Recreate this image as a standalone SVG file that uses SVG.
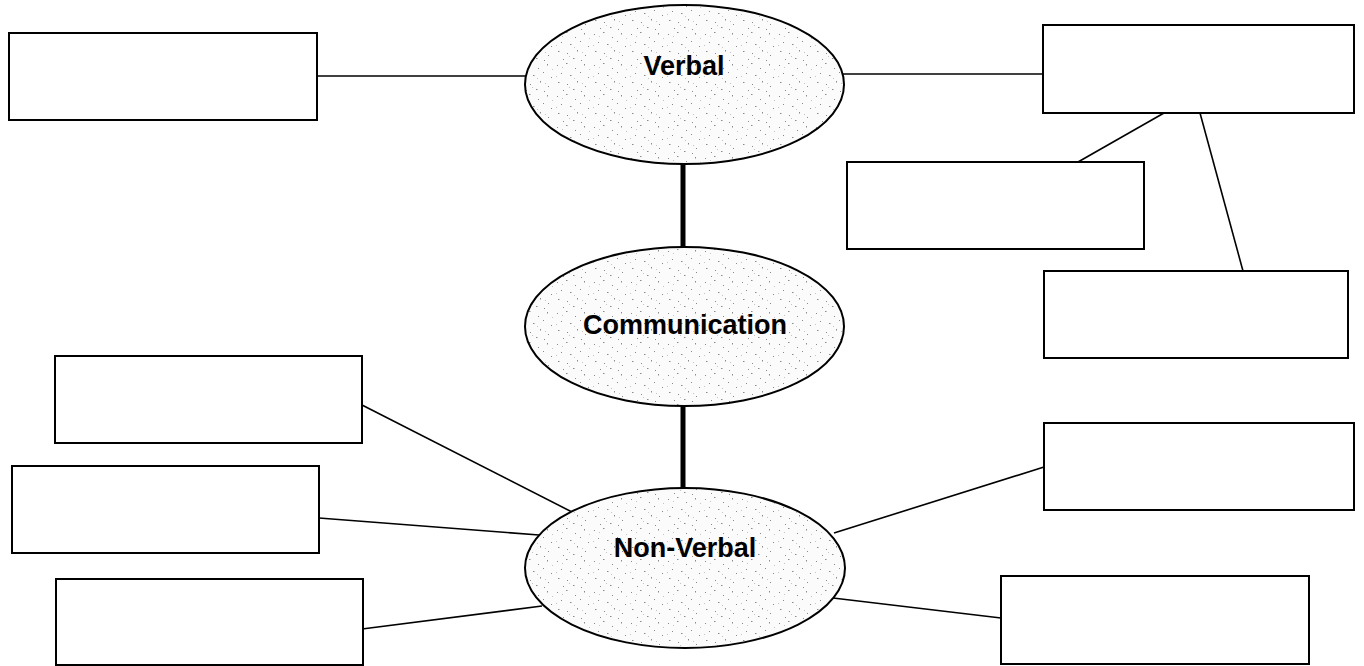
<svg xmlns="http://www.w3.org/2000/svg" width="1364" height="666" viewBox="0 0 1364 666">
  <style>
    .box { fill: #ffffff; stroke: #000000; stroke-width: 2; }
    .oval { fill: url(#stipple); stroke: #000000; stroke-width: 2; }
    .label { font-family: "Liberation Sans", Arial, sans-serif; font-weight: bold; font-size: 27px; fill: #000000; text-anchor: middle; }
    .thin { stroke: #000000; stroke-width: 1.6; fill: none; }
    .thick { stroke: #000000; stroke-width: 5; fill: none; }
  </style>
  <defs>
    <pattern id="stipple" width="37" height="31" patternUnits="userSpaceOnUse">
      <rect width="37" height="31" fill="#fbfbfb"/>
      <g fill="#8a8a8a">
        <rect x="2" y="3" width="1" height="1"/>
        <rect x="11" y="1" width="1.5" height="1"/>
        <rect x="20" y="6" width="1" height="1"/>
        <rect x="29" y="2" width="1" height="1.5"/>
        <rect x="6" y="11" width="1" height="1"/>
        <rect x="15" y="13" width="1.5" height="1"/>
        <rect x="25" y="10" width="1" height="1"/>
        <rect x="33" y="15" width="1" height="1"/>
        <rect x="3" y="20" width="1.5" height="1"/>
        <rect x="12" y="22" width="1" height="1"/>
        <rect x="22" y="19" width="1" height="1.5"/>
        <rect x="30" y="24" width="1" height="1"/>
        <rect x="8" y="28" width="1" height="1"/>
        <rect x="18" y="27" width="1.5" height="1"/>
        <rect x="26" y="29" width="1" height="1"/>
      </g>
      <g fill="#c4c4c4">
        <rect x="7" y="5" width="1" height="1"/>
        <rect x="34" y="7" width="1" height="1"/>
        <rect x="19" y="16" width="1" height="1"/>
        <rect x="1" y="14" width="1" height="1"/>
        <rect x="27" y="21" width="1" height="1"/>
        <rect x="14" y="25" width="1" height="1"/>
      </g>
    </pattern>
  </defs>

  <g id="connectors">
    <line class="thick" x1="683" y1="163" x2="683" y2="248"/>
    <line class="thick" x1="683" y1="405" x2="683" y2="489"/>
    <line class="thin" x1="317" y1="76" x2="526" y2="76"/>
    <line class="thin" x1="843" y1="74" x2="1043" y2="74"/>
    <line class="thin" x1="1164" y1="113" x2="1078" y2="162"/>
    <line class="thin" x1="1200" y1="113" x2="1243" y2="271"/>
    <line class="thin" x1="362" y1="405" x2="572" y2="512"/>
    <line class="thin" x1="319" y1="518" x2="539" y2="535"/>
    <line class="thin" x1="362" y1="629" x2="542" y2="606"/>
    <line class="thin" x1="1044" y1="467" x2="834" y2="533"/>
    <line class="thin" x1="1001" y1="618" x2="833" y2="598"/>
  </g>

  <g id="verbal">
    <ellipse class="oval" cx="684.5" cy="84.5" rx="159.5" ry="79.5"/>
    <text class="label" x="684" y="75">Verbal</text>
  </g>
  <g id="communication">
    <ellipse class="oval" cx="684.5" cy="326.5" rx="159.5" ry="79.5"/>
    <text class="label" x="685" y="334">Communication</text>
  </g>
  <g id="non-verbal">
    <ellipse class="oval" cx="685" cy="568" rx="160" ry="80"/>
    <text class="label" x="685" y="557">Non-Verbal</text>
  </g>

  <g id="box-verbal-left">
    <rect class="box" x="9" y="33" width="308" height="87"/>
  </g>
  <g id="box-verbal-right">
    <rect class="box" x="1043" y="25" width="311" height="88"/>
  </g>
  <g id="box-verbal-right-a">
    <rect class="box" x="847" y="162" width="297" height="87"/>
  </g>
  <g id="box-verbal-right-b">
    <rect class="box" x="1044" y="271" width="304" height="87"/>
  </g>
  <g id="box-nv-left-1">
    <rect class="box" x="55" y="356" width="307" height="87"/>
  </g>
  <g id="box-nv-left-2">
    <rect class="box" x="12" y="466" width="307" height="87"/>
  </g>
  <g id="box-nv-left-3">
    <rect class="box" x="56" y="579" width="307" height="86"/>
  </g>
  <g id="box-nv-right-1">
    <rect class="box" x="1044" y="423" width="310" height="87"/>
  </g>
  <g id="box-nv-right-2">
    <rect class="box" x="1001" y="576" width="308" height="88"/>
  </g>
</svg>
